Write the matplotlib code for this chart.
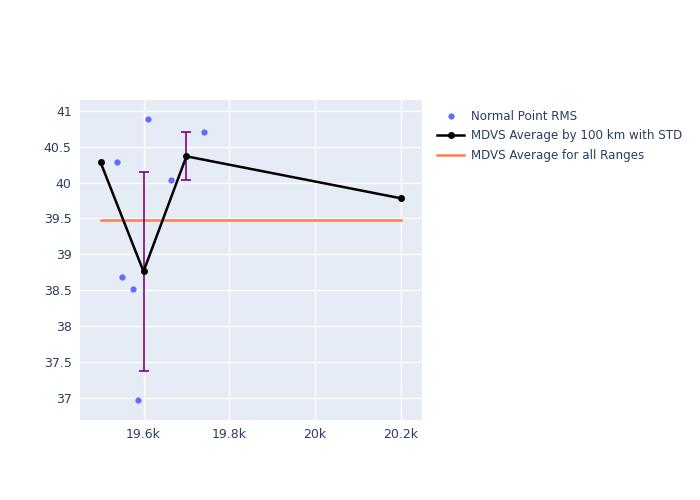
import matplotlib
matplotlib.use("Agg")
import matplotlib.pyplot as plt
from matplotlib.ticker import FixedLocator

# Normal point RMS values
rms_x = [19539, 19551, 19575, 19587, 19610, 19663, 19742]
rms_y = [40.28, 38.68, 38.52, 36.97, 40.88, 40.03, 40.70]

# average by 100 km bins, with std
avg_x = [19500, 19600, 19700, 20200]
avg_y = [40.28, 38.76, 40.365, 39.78]
avg_std = [0, 1.39, 0.335, 0]

# overall average
all_x = [19500, 20200]
all_y = [39.48, 39.48]

x_ticks = [19600, 19800, 20000, 20200]
x_labels = ["19.6k", "19.8k", "20k", "20.2k"]
y_ticks = [37, 37.5, 38, 38.5, 39, 39.5, 40, 40.5, 41]
y_labels = ["37", "37.5", "38", "38.5", "39", "39.5", "40", "40.5", "41"]

txt = "#2a3f5f"
plt.rcParams["font.family"] = ["DejaVu Sans"]

fig = plt.figure(figsize=(7, 5), dpi=100)
ax = fig.add_axes([80 / 700, 80 / 500, 342 / 700, 320 / 500])
ax.set_facecolor("#E5ECF6")

h_rms, = ax.plot(rms_x, rms_y, "o", color="#636efa", ms=4.5, mec="none", zorder=3)

# error bars only where std is non zero
ex = [x for x, s in zip(avg_x, avg_std) if s > 0]
ey = [y for y, s in zip(avg_y, avg_std) if s > 0]
es = [s for s in avg_std if s > 0]
ax.errorbar(ex, ey, yerr=es, fmt="none", ecolor="purple", elinewidth=1.2,
            capsize=3.5, capthick=1.2, zorder=3)
h_avg, = ax.plot(avg_x, avg_y, color="black", marker="o", ms=4, lw=1.8, zorder=4)
h_all, = ax.plot(all_x, all_y, color="#ff7f50", lw=1.8, zorder=2)

ax.set_xlim(19452, 20249)
ax.set_ylim(36.69, 41.15)
ax.xaxis.set_major_locator(FixedLocator(x_ticks))
ax.set_xticklabels(x_labels)
ax.yaxis.set_major_locator(FixedLocator(y_ticks))
ax.set_yticklabels(y_labels)
ax.grid(color="white", lw=1)
ax.set_axisbelow(True)
ax.tick_params(length=0, labelsize=9, colors=txt, pad=6)
for s in ax.spines.values():
    s.set_visible(False)

leg = fig.legend([h_rms, h_avg, h_all],
                 ["Normal Point RMS", "MDVS Average by 100 km with STD",
                  "MDVS Average for all Ranges"],
                 loc="upper left", bbox_to_anchor=(432 / 700, 1 - 105 / 500),
                 frameon=False, fontsize=8.6, handlelength=2.3, handletextpad=0.55,
                 labelspacing=0.55, borderaxespad=0)
for t in leg.get_texts():
    t.set_color(txt)

fig.savefig("out.png", dpi=100)
